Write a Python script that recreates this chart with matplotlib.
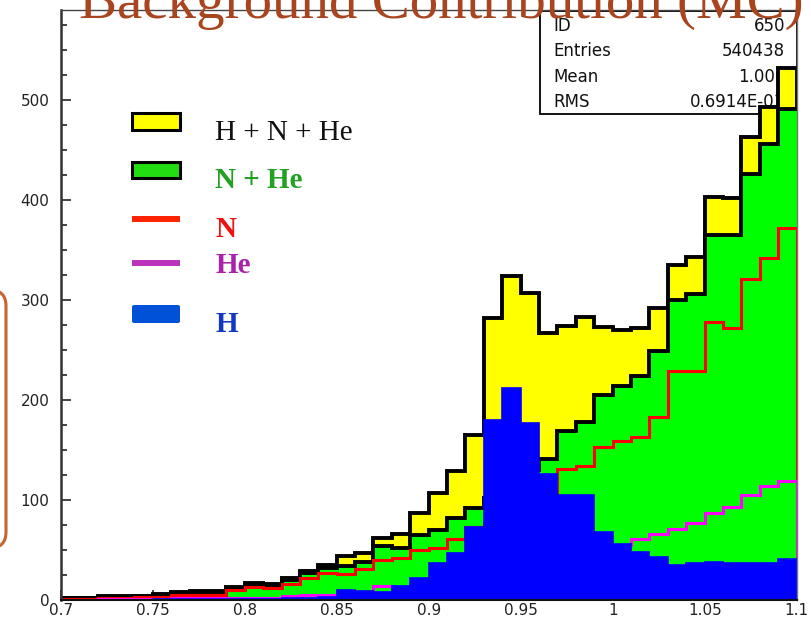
import numpy as np
import matplotlib
matplotlib.use('Agg')
import matplotlib.pyplot as plt
from matplotlib.patches import Rectangle, FancyBboxPatch
from matplotlib.lines import Line2D
from matplotlib.transforms import IdentityTransform

# ---------------- data ----------------
x_low, x_high, n_bins = 0.70, 1.10, 40
# H (proton) component per bin
H = [0.5, 0.5, 0.5, 0.5, 0.5, 1, 1, 1, 1, 1,
     1.5, 1.5, 2, 2, 3, 10, 9, 8, 14, 22,
     37, 47, 73, 180, 212, 177, 126, 105, 105, 68,
     56, 48, 43, 35, 37, 38, 37, 37, 37, 41]
# N component per bin
N = [1.5, 1.5, 2.5, 2.5, 3, 3.5, 5, 5.5, 5.5, 10,
     13, 12, 16, 22, 27, 26, 31, 40, 42, 50,
     52, 61, 73, 77, 84, 99, 107, 131, 134, 153,
     159, 163, 183, 229, 229, 278, 272, 321, 342, 372]
# He component per bin
He = [0.5, 0.5, 1, 1, 1, 1.5, 2, 2.5, 2.5, 2,
      2.5, 2.5, 4, 5, 5, 8, 7, 14, 10, 15,
      18, 21, 19, 25, 28, 31, 34, 38, 44, 52,
      55, 61, 66, 71, 77, 87, 93, 105, 114, 119]

xtick_vals = [0.7, 0.75, 0.8, 0.85, 0.9, 0.95, 1.0, 1.05, 1.1]
xtick_labels = ['0.7', '0.75', '0.8', '0.85', '0.9', '0.95', '1', '1.05', '1.1']
ytick_vals = [0, 100, 200, 300, 400, 500]
stats_names = ['ID', 'Entries', 'Mean', 'RMS']
stats_values = ['650', '540438', '1.006', '0.6914E-01']
legend_labels = ['H + N + He', 'N + He', 'N', 'He', 'H']
title = 'Background Contribution (MC)'

edges = np.linspace(x_low, x_high, n_bins + 1)
H = np.array(H, float)
N = np.array(N, float)
He = np.array(He, float)
NHe = N + He
total = H + N + He

# ---------------- figure ----------------
W, Hh = 811, 620
fig = plt.figure(figsize=(W / 100, Hh / 100), dpi=100)
fig.patch.set_facecolor('white')
ax_l, ax_r, ax_b, ax_t = 60.7, 796.7, 20, 610
ax = fig.add_axes([ax_l / W, ax_b / Hh, (ax_r - ax_l) / W, (ax_t - ax_b) / Hh])
ax.set_xlim(x_low, x_high)
ax.set_ylim(0, 590)

# stats box (under the histograms)
ident = IdentityTransform()
ax.add_patch(Rectangle((540, Hh - 114), 257, 103, transform=ident,
                       fc='white', ec='black', lw=1.3, zorder=1.2, clip_on=False))
row_base = [589, 564, 538, 513]
for nm, val, yb in zip(stats_names, stats_values, row_base):
    ax.text(553, yb, nm, transform=ident, ha='left', va='baseline',
            fontsize=12, family='DejaVu Sans', color='#111111', zorder=1.3)
    ax.text(785, yb, val, transform=ident, ha='right', va='baseline',
            fontsize=12, family='DejaVu Sans', color='#111111', zorder=1.3)

# histograms
ax.stairs(total, edges, fill=True, color='#FFFF00', lw=0, zorder=2)
ax.stairs(total, edges, baseline=0, color='black', lw=2.8, zorder=2.5)
ax.stairs(NHe, edges, fill=True, color='#00FF00', lw=0, zorder=3)
ax.stairs(NHe, edges, baseline=None, color='black', lw=2.8, zorder=3.2)
ax.stairs(N, edges, baseline=0, color='#FF0000', lw=2.2, zorder=4)
ax.stairs(He, edges, baseline=0, color='#FF00FF', lw=2.2, zorder=5)
ax.stairs(H, edges, fill=True, color='#0000FF', lw=0, zorder=6)
ax.stairs(H, edges, baseline=None, color='#0000FF', lw=1.2, zorder=6)

# axes styling (ROOT-like)
ax.set_xticks(xtick_vals)
ax.set_xticklabels(xtick_labels)
ax.set_xticks(np.arange(x_low, x_high + 1e-9, 0.025), minor=True)
ax.set_yticks(ytick_vals)
ax.set_yticklabels([str(v) for v in ytick_vals])
ax.set_yticks(np.arange(0, 590, 25), minor=True)
ax.tick_params(which='both', direction='in', top=False, right=False,
               colors='#111111', width=1.1, labelsize=11)
ax.tick_params(which='major', length=7.5)
ax.tick_params(which='minor', length=4)
ax.tick_params(axis='x', pad=2)
ax.tick_params(axis='y', pad=8)
for t in ax.get_xticklabels() + ax.get_yticklabels():
    t.set_family('DejaVu Sans')
    t.set_color('#222222')
for side, lw, col in [('left', 1.8, '#333333'), ('bottom', 1.5, '#111111'),
                      ('top', 1.0, '#444444'), ('right', 1.0, '#777777')]:
    ax.spines[side].set_linewidth(lw)
    ax.spines[side].set_color(col)
    ax.spines[side].set_zorder(7)

# legend (hand-drawn like the slide)
fig.patches.append(Rectangle((132, Hh - 130), 48, 17, transform=ident,
                             fc='#FFFF00', ec='black', lw=2.2))
fig.patches.append(Rectangle((132, Hh - 178), 48, 16, transform=ident,
                             fc='#22DD11', ec='black', lw=2.2))
fig.lines.append(Line2D([132, 180], [Hh - 219, Hh - 219], transform=ident,
                        color='#FF2200', lw=4.3, solid_capstyle='butt'))
fig.lines.append(Line2D([132, 180], [Hh - 263, Hh - 263], transform=ident,
                        color='#BB33BB', lw=4.3, solid_capstyle='butt'))
fig.patches.append(FancyBboxPatch((132, Hh - 323), 48, 18, transform=ident,
                                  boxstyle='round,pad=0,rounding_size=2',
                                  fc='#0050D8', ec='none'))
leg_specs = [
    (legend_labels[0], Hh - 140, 'normal', '#111111'),
    (legend_labels[1], Hh - 188, 'bold', '#22A022'),
    (legend_labels[2], Hh - 237, 'bold', '#EE1111'),
    (legend_labels[3], Hh - 273, 'bold', '#AA22AA'),
    (legend_labels[4], Hh - 332, 'bold', '#1038C0'),
]
for txt, yb, wt, col in leg_specs:
    fig.text(215, yb, txt, transform=ident, ha='left', va='baseline',
             fontsize=21, family='Liberation Serif', fontweight=wt, color=col)

# slide decorations
fig.patches.append(FancyBboxPatch((-40, Hh - 548), 46, 258, transform=ident,
                                  boxstyle='round,pad=0,rounding_size=16',
                                  fc='none', ec='#C8652E', lw=2.2))
fig.text(441, Hh - 18, title, transform=ident, ha='center', va='baseline',
         fontsize=41, family='Liberation Serif', color='#A8441E')

fig.savefig('out.png', dpi=100)
